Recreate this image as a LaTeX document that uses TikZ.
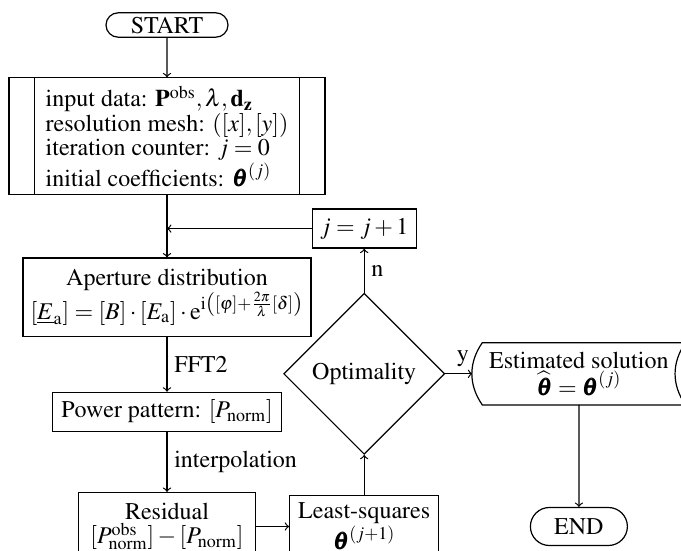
\documentclass[tikz,border=0pt]{standalone}
\usepackage[T1]{fontenc}
\usepackage{mathptmx}
\usepackage{bm}
\usetikzlibrary{positioning}
\usetikzlibrary{shapes.geometric,shapes.misc}
\tikzstyle{every node}=[font=\fontsize{12pt}{12.2pt}\selectfont]
\tikzstyle{terminal}=[rounded rectangle,draw,inner sep=1pt]
\tikzstyle{procbox}=[rectangle,draw,align=center,inner sep=1.5pt]
\tikzstyle{decision}=[diamond,draw,minimum width=80.5pt,minimum height=80.5pt,inner sep=0pt]
\tikzstyle{storedbox}=[rectangle,align=center,inner sep=0pt,minimum width=106pt,minimum height=30.5pt]
\tikzstyle{flow}=[->]

\begin{document}
\begin{tikzpicture}[x=0.5pt,y=-0.5pt,line width=0.6pt]
\useasboundingbox (0,0) rectangle (681,551);
\node (start) at (167,25) [terminal,minimum width=63pt,minimum height=12.2pt] {START};
\node (inp) [below=19.75pt of start, procbox, align=left, minimum width=158pt, minimum height=58.5pt]
  {input data: $\mathbf{P}^{\mathrm{obs}}, \lambda, \mathbf{d}_{\mathbf{z}}$\\
   resolution mesh: $([x],[y])$\\
   iteration counter: $j=0$\\
   initial coefficients: $\bm{\theta}^{(j)}$};
\draw ([xshift=13pt]inp.north west) -- ([xshift=13pt]inp.south west);
\draw ([xshift=-13pt]inp.north east) -- ([xshift=-13pt]inp.south east);
\node (apert) [below=31pt of inp, procbox, minimum width=144pt, minimum height=39pt]
  {Aperture distribution\\
   $[\underline{E}_{\mathrm{a}}]=[B]\cdot[E_{\mathrm{a}}]\cdot\mathrm{e}^{\mathrm{i}\left([\varphi]+\frac{2\pi}{\lambda}[\delta]\right)}$};
\node (power) [below=27.5pt of apert, procbox, minimum width=114.5pt, minimum height=19.5pt]
  {Power pattern: $[P_{\mathrm{norm}}]$};
\node (resid) [below=30pt of power, procbox, minimum width=88.5pt, minimum height=34pt]
  {Residual\\ $[P^{\mathrm{obs}}_{\mathrm{norm}}]-[P_{\mathrm{norm}}]$};
\node (lsq) [right=16.5pt of resid, procbox, minimum width=74.5pt, minimum height=31pt]
  {Least-squares\\ $\bm{\theta}^{(j+1)}$};
\node (optim) [above=20pt of lsq, decision] {Optimality};
\node (jinc) [above=22pt of optim, procbox, minimum width=52pt, minimum height=19.5pt] {$j = j+1$};
\node (estim) [right=13.5pt of optim, storedbox]
  {Estimated solution\\ $\widehat{\bm{\theta}}=\bm{\theta}^{(j)}$};
\draw ([xshift=5pt]estim.north west) -- (estim.north east) to[bend right=35] (estim.south east)
  -- ([xshift=5pt]estim.south west) to[bend left=35] ([xshift=5pt]estim.north west) -- cycle;
\node (stop) [below=51pt of estim, terminal, minimum width=50.5pt, minimum height=19pt] {END};

\draw[flow] (start) -- (inp);
\draw[flow] (inp) -- (apert);
\draw[flow] (jinc.west) -- (jinc -| inp);
\draw[flow] (apert) -- node[right] {FFT2} (power);
\draw[flow] (power) -- node[right] {interpolation} (resid);
\draw[flow] (resid) -- (lsq);
\draw[flow] (lsq) -- (optim);
\draw[flow] (optim) -- node[right] {n} (jinc);
\draw[flow] (optim) -- node[above,pos=0.65] {y} (estim);
\draw[flow] (estim) -- (stop);
\end{tikzpicture}
\end{document}
